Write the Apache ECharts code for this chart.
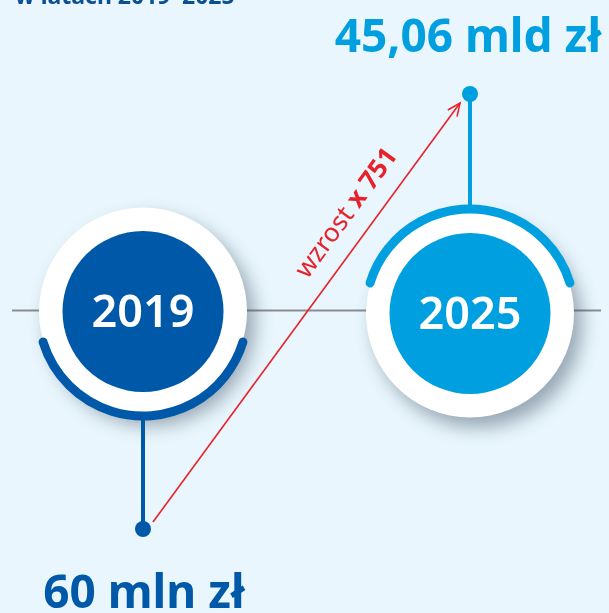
<!DOCTYPE html>
<html>
<head>
<meta charset="utf-8">
<script src="https://cdn.jsdelivr.net/npm/echarts@6/dist/echarts.min.js"></script>
<style>
  html, body { margin: 0; padding: 0; background: #e9f6fd; }
  #chart { width: 609px; height: 613px; }
</style>
</head>
<body>
<div id="chart"></div>
<script>
// dane
var years = [2019, 2025];
var yearLabels = ["2019", "2025"];
var amounts = [60e6, 45.06e9]; // zł
var amountLabels = ["60 mln zł", "45,06 mld zł"];
var circleColors = ["#0059a8", "#009fdf"];
var growthLabels = ["wzrost", "x 751"];
var titleText = "w latach 2019–2025";

var chart = echarts.init(document.getElementById("chart"));
var FONT = "'Noto Sans', sans-serif";
var midValue = Math.sqrt(amounts[0] * amounts[1]);

function renderYear(params, api) {
  var i = params.dataIndex;
  var up = amounts[i] >= midValue;
  var c = api.coord([years[i], midValue]);
  var dot = api.coord([years[i], amounts[i]]);
  var color = circleColors[i];
  var R = 104;
  var cy = c[1] + (up ? 2 : 0);
  var children = [];

  if (i === 0) {
    // szara linia osi czasu
    children.push({
      type: "line",
      shape: { x1: 12, y1: c[1] - 1, x2: api.getWidth() - 8, y2: c[1] - 1 },
      style: { stroke: "#8a8e92", lineWidth: 2 }
    });
  }
  children.push({
    type: "circle",
    shape: { cx: c[0], cy: cy, r: R },
    style: {
      fill: "#fff",
      shadowBlur: 18,
      shadowColor: "rgba(50,70,90,0.45)",
      shadowOffsetX: 8,
      shadowOffsetY: 10
    }
  });
  children.push({
    type: "line",
    shape: { x1: dot[0], y1: cy + (up ? -R : R), x2: dot[0], y2: dot[1] },
    style: { stroke: color, lineWidth: 4 }
  });
  var a = 17 * Math.PI / 180;
  children.push({
    type: "arc",
    shape: {
      cx: c[0], cy: cy, r: R + 0.5,
      startAngle: up ? Math.PI + a : a,
      endAngle: up ? 2 * Math.PI - a : Math.PI - a,
      clockwise: true
    },
    style: { stroke: color, lineWidth: 9, lineCap: "round", fill: null }
  });
  children.push({
    type: "circle",
    shape: { cx: c[0], cy: cy, r: 80.5 },
    style: { fill: color }
  });
  children.push({
    type: "text",
    x: c[0],
    y: cy + 3,
    style: {
      text: yearLabels[i],
      fill: "#fff",
      font: "600 45px " + FONT,
      align: "center",
      verticalAlign: "middle"
    }
  });
  children.push({
    type: "circle",
    shape: { cx: dot[0], cy: dot[1], r: 8 },
    style: { fill: color }
  });
  children.push({
    type: "text",
    x: dot[0] + (up ? -2 : 1),
    y: dot[1] + (up ? -55 : 66),
    style: {
      text: amountLabels[i],
      fill: color,
      font: "bold 46px " + FONT,
      align: "center",
      verticalAlign: "middle"
    }
  });
  return { type: "group", children: children };
}

function renderArrow(params, api) {
  var p0 = api.coord([years[0], amounts[0]]);
  var p1 = api.coord([years[1], amounts[1]]);
  var s = [p0[0] + 10, p0[1] - 7];
  var e = [p1[0] - 10, p1[1] + 9];
  var dx = e[0] - s[0], dy = e[1] - s[1];
  var len = Math.sqrt(dx * dx + dy * dy);
  var ux = dx / len, uy = dy / len;
  var ang = Math.atan2(-dy, dx);
  var head = 14, spread = 0.42;
  function arm(sign) {
    var t = Math.atan2(-uy, -ux) + sign * spread;
    return [e[0] + head * Math.cos(t), e[1] + head * Math.sin(t)];
  }
  var t = 0.7, off = 26;
  var tx = s[0] + dx * t + uy * off;
  var ty = s[1] + dy * t - ux * off;
  return {
    type: "group",
    children: [
      {
        type: "line",
        shape: { x1: s[0], y1: s[1], x2: e[0], y2: e[1] },
        style: { stroke: "#e8222b", lineWidth: 1.6 }
      },
      {
        type: "polyline",
        shape: { points: [arm(1), e, arm(-1)] },
        style: { stroke: "#e8222b", lineWidth: 1.6, fill: null }
      },
      {
        type: "text",
        x: tx,
        y: ty,
        rotation: ang,
        style: {
          text: "{a|" + growthLabels[0] + "}  {b|" + growthLabels[1] + "}",
          align: "center",
          verticalAlign: "middle",
          fill: "#e8222b",
          rich: {
            a: { fontFamily: FONT, fontSize: 26, fill: "#e8222b" },
            b: { fontFamily: FONT, fontSize: 26, fontWeight: "bold", fill: "#e8222b" }
          }
        }
      }
    ]
  };
}

var option = {
  backgroundColor: "#e9f6fd",
  animation: false,
  title: {
    text: titleText,
    left: 10,
    top: -19,
    textStyle: { fontFamily: FONT, fontSize: 23, fontWeight: "bold", color: "#0b4f95" }
  },
  grid: { left: 143, right: 139, top: 94, bottom: 84 },
  xAxis: { type: "value", min: years[0], max: years[1], show: false },
  yAxis: { type: "log", min: amounts[0], max: amounts[1], show: false },
  series: [
    {
      type: "custom",
      renderItem: renderYear,
      data: years.map(function (y, i) { return [y, amounts[i]]; }),
      z: 2
    },
    {
      type: "custom",
      renderItem: renderArrow,
      data: [[years[0], amounts[0]]],
      z: 3
    }
  ]
};
chart.setOption(option);
</script>
</body>
</html>
